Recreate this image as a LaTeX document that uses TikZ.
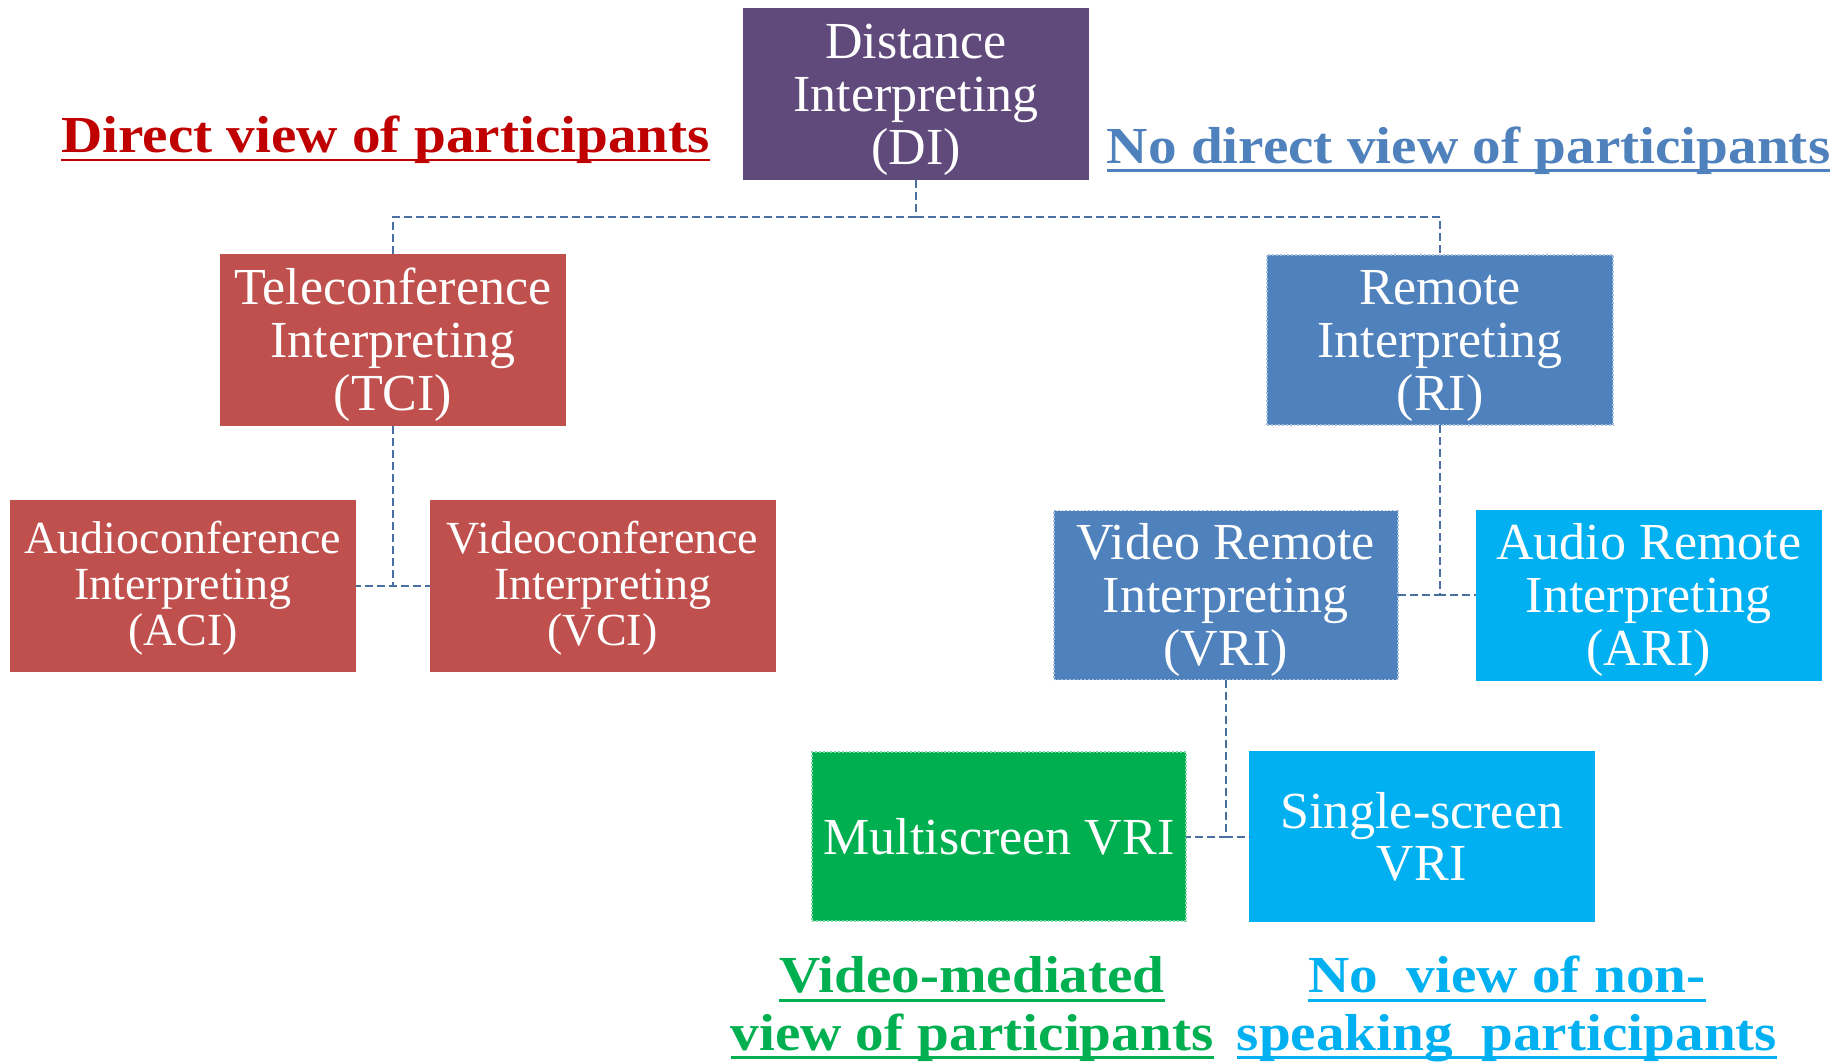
\documentclass[tikz,border=0pt]{standalone}
\usepackage{fontspec}
\setmainfont{Liberation Serif}
\newfontfamily\headfont[FakeStretch=1.1]{Liberation Serif}
\newsavebox\ulbox
\newcommand{\myuline}[1]{\sbox\ulbox{#1}\rlap{\rule[-4.3pt]{\wd\ulbox}{1.3pt}}\usebox\ulbox}
\newcommand{\fst}[1]{\rule{0pt}{#1}}
\definecolor{cpurple}{HTML}{604A7B}
\definecolor{cred}{HTML}{C0504D}
\definecolor{cblue}{HTML}{4F81BD}
\definecolor{ccyan}{HTML}{00B0F0}
\definecolor{cgreen}{HTML}{00B050}
\definecolor{credtext}{HTML}{C00000}
\definecolor{cline}{HTML}{4A6FA3}
\begin{document}
\begin{tikzpicture}[x=0.5pt,y=-0.5pt,
  box/.style={rectangle, minimum width=173pt, minimum height=86pt, inner sep=0pt, outer sep=0pt,
    text=white, align=center, font=\fontsize{26}{26.3}\selectfont},
  smallbox/.style={box, font=\fontsize{23}{23}\selectfont},
  dotborder/.style={draw=#1!50!white, densely dotted, line width=0.9pt},
  conn/.style={draw=cline, line width=1.2pt, dash pattern=on 4pt off 2pt},
  head/.style={font=\headfont\bfseries\fontsize{26}{28.6}\selectfont, align=center, inner sep=0pt}]
\useasboundingbox (0,0) rectangle (1840,1062);

% headings
\node[head, text=credtext, anchor=base] (hd1) at (385.5,152.5) {\myuline{Direct view of participants}};
\node[head, text=cblue, anchor=base] (hd2) at (1468.6,163) {\myuline{No direct view of participants}};
\node[head, text=cgreen] (hd3) at (972,1009) {\myuline{Video-mediated}\\\myuline{view of participants}};
\node[head, text=ccyan] (hd4) at (1507,1009) {\myuline{No\ \ view of non-}\\\myuline{speaking\ \ participants}};

% boxes
\node[box, fill=cpurple] (DI) at (916,94) {\fst{23pt}Distance\\Interpreting\\(DI)};
\node[box, fill=cred] (TCI) at (393,340) {\fst{23pt}Teleconference\\Interpreting\\(TCI)};
\node[box, fill=cblue, dotborder=cblue, minimum height=85pt] (RI) at (1440,340) {\fst{23pt}Remote\\Interpreting\\(RI)};
\node[smallbox, fill=cred] (ACI) at (183,586) {\fst{18.5pt}Audioconference\\Interpreting\\(ACI)};
\node[smallbox, fill=cred] (VCI) at (602.6,586) {\fst{18.5pt}Videoconference\\Interpreting\\(VCI)};
\node[box, fill=cblue, dotborder=cblue, minimum height=84.5pt, minimum width=172pt] (VRI) at (1225.7,595) {\fst{23pt}Video Remote\\Interpreting\\(VRI)};
\node[box, fill=ccyan, minimum height=85.5pt] (ARI) at (1648.7,595) {\fst{23pt}Audio Remote\\Interpreting\\(ARI)};
\node[box, fill=cgreen, dotborder=cgreen, minimum width=187pt, minimum height=84.5pt] (MS) at (999,836.7) {Multiscreen VRI};
\node[box, fill=ccyan, minimum height=85.5pt] (SS) at (1421.6,836.7) {Single-screen\\VRI};

% connectors
\coordinate (bus) at (916,217);
\draw[conn] (DI.south) -- (bus);
\draw[conn] (bus) -| (TCI.north);
\draw[conn] (bus) -| (RI.north);
\draw[conn] (TCI.south) |- (ACI.east);
\draw[conn] (TCI.south) |- (VCI.west);
\draw[conn] (RI.south) |- (VRI.east);
\draw[conn] (RI.south) |- (ARI.west);
\draw[conn] (VRI.south) |- (MS.east);
\draw[conn] (VRI.south) |- (SS.west);
\end{tikzpicture}
\end{document}
